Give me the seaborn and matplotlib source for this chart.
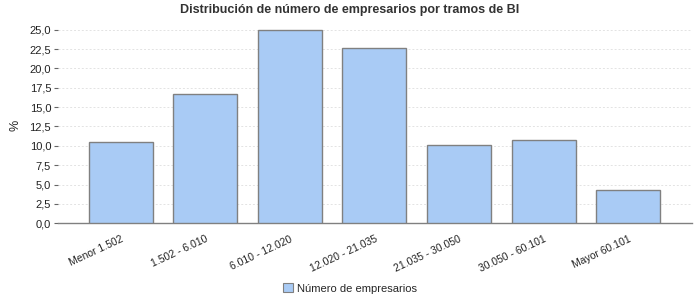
import matplotlib
matplotlib.use("Agg")
import matplotlib.pyplot as plt
import seaborn as sns
import pandas as pd
from matplotlib.patches import Patch
from matplotlib.ticker import FuncFormatter, MultipleLocator

categories = ["Menor 1.502", "1.502 - 6.010", "6.010 - 12.020", "12.020 - 21.035",
              "21.035 - 30.050", "30.050 - 60.101", "Mayor 60.101"]
values = [10.55, 16.75, 25.0, 22.7, 10.05, 10.8, 4.25]
series_name = "Número de empresarios"
title = "Distribución de número de empresarios por tramos de BI"

sns.set_theme(style="white")
plt.rcParams['font.family'] = ['Liberation Sans', 'DejaVu Sans']

df = pd.DataFrame({"cat": categories, "val": values})

fig = plt.figure(figsize=(7, 3), dpi=100)
ax = fig.add_axes([0.083, 0.256, 0.905, 0.65])

sns.barplot(data=df, x="cat", y="val", ax=ax, color="#A9CBF5", saturation=1,
            width=0.756, edgecolor="#808080", linewidth=1.0, zorder=3)

ax.set_xlim(-0.74, 6.75)
ax.set_ylim(0, 25.2)
ax.yaxis.set_major_locator(MultipleLocator(2.5))
ax.yaxis.set_major_formatter(FuncFormatter(lambda v, p: f"{v:.1f}".replace(".", ",")))
ax.grid(axis="y", color="#e3e3e3", linestyle=(0, (2, 2)), linewidth=0.7, zorder=0)
for s in ["top", "right", "left"]:
    ax.spines[s].set_visible(False)
ax.spines["bottom"].set_color("#808080")
ax.spines["bottom"].set_linewidth(1.0)

ax.tick_params(axis="y", which="major", left=True, length=3, width=0.8, color="#666666",
               labelsize=8, pad=2, labelcolor="#222222")
ax.tick_params(axis="x", bottom=False, labelsize=7.5, pad=2, labelcolor="#222222")
ax.set_xticks(range(len(categories)))
ax.set_xticklabels(categories, rotation=25, ha="right", rotation_mode="anchor")
ax.set_xlabel("")
ax.set_ylabel("%", fontsize=9, color="#222222")
ax.yaxis.set_label_coords(-0.058, 0.5)

fig.suptitle(title, x=0.5, y=0.988, fontsize=9, fontweight="bold", color="#333333")

handle = Patch(facecolor="#A9CBF5", edgecolor="#808080", linewidth=0.8, label=series_name)
fig.legend(handles=[handle], loc="lower center", bbox_to_anchor=(0.5, -0.012), frameon=False,
           fontsize=8, handlelength=0.9, handleheight=0.9, handletextpad=0.4)

fig.savefig("out.png", dpi=100)
